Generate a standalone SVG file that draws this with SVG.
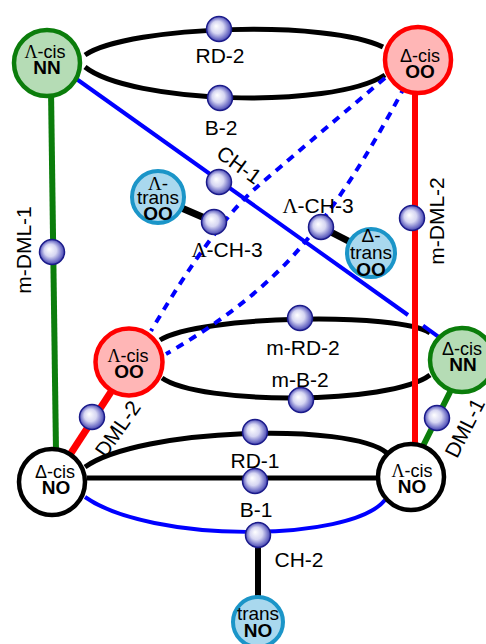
<svg xmlns="http://www.w3.org/2000/svg" width="486" height="644" viewBox="0 0 486 644">
  <style>
    .lbl { font-family: "Liberation Sans", Arial, sans-serif; font-size: 21px; fill: #000; text-anchor: middle; }
    .nt { font-family: "Liberation Sans", Arial, sans-serif; font-size: 18px; fill: #000; text-anchor: middle; }
    .nb { font-family: "Liberation Sans", Arial, sans-serif; font-size: 19px; font-weight: bold; fill: #000; text-anchor: middle; }
    .lam { font-family: "Liberation Serif", "Times New Roman", serif; }
    .green { fill: #b5dcb5; stroke: #0b7d0b; stroke-width: 4.5; }
    .red { fill: #ffb6b6; stroke: #ff0000; stroke-width: 4.5; }
    .white { fill: #ffffff; stroke: #000000; stroke-width: 4.5; }
    .lblue { fill: #a9d8ee; stroke: #1b95c8; stroke-width: 4; }
    .blk { fill: none; stroke: #000; stroke-width: 5; }
    .thick { fill: none; stroke: #000; stroke-width: 7; }
    .blu { fill: none; stroke: #0000ff; stroke-width: 4; }
    .dash { fill: none; stroke: #0000ff; stroke-width: 4; stroke-dasharray: 8 7; }
    .gl { fill: none; stroke: #0b7d0b; stroke-width: 6; }
    .rl { fill: none; stroke: #ff0000; stroke-width: 6; }
    .bead { fill: url(#sphere); stroke: #1a1a8a; stroke-width: 1.5; }
  </style>
  <defs>
    <radialGradient id="sphere" cx="0.5" cy="0.5" r="0.55" fx="0.38" fy="0.38">
      <stop offset="0" stop-color="#ffffff"/>
      <stop offset="0.45" stop-color="#d6d6f2"/>
      <stop offset="0.8" stop-color="#6a6ac4"/>
      <stop offset="1" stop-color="#2a2a9a"/>
    </radialGradient>
  </defs>

  <!-- connectors -->
  <g id="connectors">
    <!-- top ring -->
    <path class="blk" d="M85,55 C130,25 330,20 383,47"/>
    <path class="blk" d="M85,67 C130,103 330,110 385,75"/>
    <!-- middle ring -->
    <path class="blk" d="M160,340 C200,315 400,312 430,333"/>
    <path class="blk" d="M162,378 C200,405 390,405 430,375"/>
    <!-- bottom ring -->
    <path class="blk" d="M85,467 C140,428 350,422 387,453"/>
    <line class="blk" x1="87" y1="478" x2="378" y2="478"/>
    <path class="blu" d="M85,497 C150,543 350,543 385,500"/>
    <line class="blk" x1="258" y1="535" x2="258" y2="598" style="stroke-width:6"/>
    <!-- CH-1, passing under m-DML-2 -->
    <line class="blu" x1="47" y1="58" x2="408" y2="315"/>
    <line class="blu" x1="423" y1="325.7" x2="440" y2="337.8"/>
    <!-- dashed pair between the OO nodes -->
    <path class="dash" d="M385,78 Q300,150 257,187 T151,331"/>
    <path class="dash" d="M405,86 Q350,190 300,248 T166,354"/>
    <!-- trans OO tethers -->
    <line class="thick" x1="170" y1="203" x2="214" y2="222"/>
    <line class="thick" x1="321" y1="227" x2="360" y2="247"/>
    <!-- verticals -->
    <line class="gl" x1="51" y1="90" x2="56" y2="452"/>
    <line class="rl" x1="415" y1="90" x2="415" y2="446"/>
    <!-- diagonals -->
    <line class="rl" x1="60" y1="470" x2="120" y2="378" style="stroke-width:7"/>
    <line class="gl" x1="415" y1="462" x2="458" y2="376"/>
  </g>

  <!-- nodes -->
  <g id="nn-top">
    <circle class="green" cx="47" cy="63" r="33"/>
    <text class="nt" x="45" y="58"><tspan class="lam">Λ</tspan>-cis</text>
    <text class="nb" x="47" y="74">NN</text>
  </g>
  <g id="oo-top">
    <circle class="red" cx="418" cy="60" r="33"/>
    <text class="nt" x="420" y="62">Δ-cis</text>
    <text class="nb" x="420" y="78">OO</text>
  </g>
  <g id="oo-mid">
    <circle class="red" cx="129" cy="362" r="33.5"/>
    <text class="nt" x="128" y="362"><tspan class="lam">Λ</tspan>-cis</text>
    <text class="nb" x="129" y="378">OO</text>
  </g>
  <g id="nn-mid">
    <circle class="green" cx="462" cy="360" r="32"/>
    <text class="nt" x="462" y="355">Δ-cis</text>
    <text class="nb" x="463" y="371">NN</text>
  </g>
  <g id="no-left">
    <circle class="white" cx="52" cy="482" r="33"/>
    <text class="nt" x="55" y="478">Δ-cis</text>
    <text class="nb" x="56" y="494">NO</text>
  </g>
  <g id="no-right">
    <circle class="white" cx="411" cy="477" r="33"/>
    <text class="nt" x="412" y="477"><tspan class="lam">Λ</tspan>-cis</text>
    <text class="nb" x="412" y="493">NO</text>
  </g>
  <g id="trans-oo-left">
    <circle class="lblue" cx="158" cy="197" r="26"/>
    <text class="nt" x="158" y="190" style="font-size:19px"><tspan class="lam">Λ</tspan>-</text>
    <text class="nt" x="158" y="204" style="font-size:19px">trans</text>
    <text class="nb" x="158" y="220">OO</text>
  </g>
  <g id="trans-oo-right">
    <circle class="lblue" cx="371" cy="253" r="24"/>
    <text class="nt" x="371" y="242" style="font-size:19px">Δ-</text>
    <text class="nt" x="371" y="259" style="font-size:19px">trans</text>
    <text class="nb" x="371" y="276">OO</text>
  </g>
  <g id="trans-no">
    <circle class="lblue" cx="258" cy="622" r="25"/>
    <text class="nt" x="258" y="620" style="font-size:19px">trans</text>
    <text class="nb" x="258" y="637">NO</text>
  </g>

  <!-- beads on the links -->
  <g id="beads">
    <circle class="bead" cx="219" cy="29" r="12.5"/>
    <circle class="bead" cx="220" cy="98" r="12.5"/>
    <circle class="bead" cx="219" cy="182" r="12.5"/>
    <circle class="bead" cx="214" cy="222" r="12.5"/>
    <circle class="bead" cx="321" cy="227" r="12.5"/>
    <circle class="bead" cx="412" cy="218" r="12.5"/>
    <circle class="bead" cx="52" cy="252" r="12.5"/>
    <circle class="bead" cx="300" cy="318" r="12.5"/>
    <circle class="bead" cx="301" cy="400" r="12.5"/>
    <circle class="bead" cx="92" cy="417" r="12.5"/>
    <circle class="bead" cx="437" cy="418" r="12.5"/>
    <circle class="bead" cx="255" cy="432" r="12.5"/>
    <circle class="bead" cx="255" cy="481" r="12.5"/>
    <circle class="bead" cx="258" cy="535" r="12.5"/>
  </g>

  <!-- link labels -->
  <g id="labels">
    <text class="lbl" x="220" y="63">RD-2</text>
    <text class="lbl" x="221" y="135">B-2</text>
    <text class="lbl" transform="translate(239,165) rotate(36)" y="7">CH-1</text>
    <text class="lbl" x="227" y="257"><tspan class="lam">Λ</tspan>-CH-3</text>
    <text class="lbl" x="318" y="213"><tspan class="lam">Λ</tspan>-CH-3</text>
    <text class="lbl" transform="translate(24,250) rotate(-90)" y="7">m-DML-1</text>
    <text class="lbl" transform="translate(437,221) rotate(-90)" y="7">m-DML-2</text>
    <text class="lbl" x="303" y="355">m-RD-2</text>
    <text class="lbl" x="300" y="387">m-B-2</text>
    <text class="lbl" transform="translate(118,429) rotate(-55)" y="7">DML-2</text>
    <text class="lbl" transform="translate(465,428) rotate(-63)" y="7">DML-1</text>
    <text class="lbl" x="255" y="468">RD-1</text>
    <text class="lbl" x="256" y="517">B-1</text>
    <text class="lbl" x="299" y="567">CH-2</text>
  </g>
</svg>
